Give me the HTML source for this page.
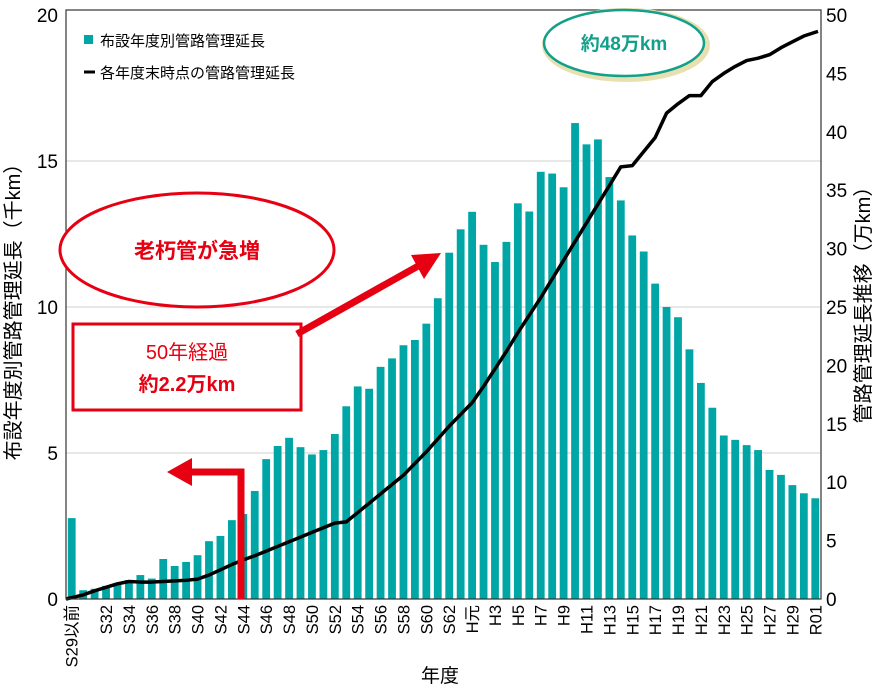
<!DOCTYPE html>
<html><head><meta charset="utf-8"><style>
body{margin:0;background:#fff;}
svg text{font-family:"Liberation Sans","Noto Sans CJK JP",sans-serif;}
</style></head><body>
<svg id="chart" width="886" height="688" viewBox="0 0 886 688" xmlns="http://www.w3.org/2000/svg">
<g id="grid"></g><g id="bars"></g><g id="line"></g><g id="axes"></g>
<g>
<rect x="84" y="35" width="9" height="9" fill="#00a6a6"/>
<text x="100" y="46" font-size="15">布設年度別管路管理延長</text>
<line x1="84" y1="72" x2="95" y2="72" stroke="#000" stroke-width="3"/>
<text x="100" y="78" font-size="15">各年度末時点の管路管理延長</text>
</g>
<g>
<ellipse cx="626" cy="45" rx="81" ry="34" fill="#fff" stroke="#e8e0b0" stroke-width="6"/>
<ellipse cx="624" cy="43" rx="80" ry="33" fill="#fff" stroke="#12a08a" stroke-width="2.5"/>
<text x="624" y="50" font-size="19" font-weight="bold" fill="#12a08a" text-anchor="middle">約48万km</text>
</g>
<g>
<ellipse cx="197" cy="250" rx="137" ry="57" fill="#fff" stroke="#e60012" stroke-width="3"/>
<text x="197" y="258" font-size="21" font-weight="bold" fill="#e60012" text-anchor="middle">老朽管が急増</text>
</g>
<g>
<rect x="73" y="324" width="228" height="86" fill="#fff" stroke="#e60012" stroke-width="3"/>
<text x="187" y="359" font-size="20" fill="#e60012" text-anchor="middle">50年経過</text>
<text x="187" y="391" font-size="20" font-weight="bold" fill="#e60012" text-anchor="middle">約2.2万km</text>
</g>
<g>
<polyline points="241,599 241,472 190,472" fill="none" stroke="#e60012" stroke-width="7"/>
<polygon points="167,472 192,458 192,486" fill="#e60012"/>
</g>
<g>
<line x1="297" y1="334" x2="420" y2="265" stroke="#e60012" stroke-width="7"/>
<polygon points="441,253 411,255 424,279" fill="#e60012"/>
</g>
<text transform="translate(20,307) rotate(-90)" font-size="20" text-anchor="middle">布設年度別管路管理延長（千km）</text>
<text transform="translate(870,300) rotate(-90)" font-size="20" text-anchor="middle">管路管理延長推移（万km）</text>
<text x="440" y="682" font-size="19" text-anchor="middle">年度</text>
</svg>
<script>
const categories=["S29以前","S30","S31","S32","S33","S34","S35","S36","S37","S38","S39","S40","S41","S42","S43","S44","S45","S46","S47","S48","S49","S50","S51","S52","S53","S54","S55","S56","S57","S58","S59","S60","S61","S62","S63","H元","H2","H3","H4","H5","H6","H7","H8","H9","H10","H11","H12","H13","H14","H15","H16","H17","H18","H19","H20","H21","H22","H23","H24","H25","H26","H27","H28","H29","H30","R01"];
const barValues=[2.77,0.3,0.35,0.45,0.55,0.65,0.82,0.7,1.37,1.13,1.27,1.5,1.98,2.16,2.7,2.91,3.7,4.79,5.24,5.52,5.2,4.95,5.1,5.65,6.6,7.28,7.2,7.95,8.24,8.69,8.87,9.43,10.3,11.86,12.66,13.26,12.13,11.54,12.23,13.55,13.27,14.63,14.57,14.1,16.3,15.57,15.74,14.45,13.65,12.45,11.9,10.8,10.0,9.65,8.55,7.4,6.55,5.6,5.45,5.27,5.1,4.42,4.25,3.9,3.62,3.45];
const lineValues=[0,0.35,0.7,1.0,1.3,1.5,1.45,1.45,1.5,1.55,1.6,1.7,2.05,2.5,2.95,3.35,3.7,4.1,4.5,4.9,5.3,5.7,6.1,6.5,6.6,7.4,8.2,9.0,9.8,10.6,11.6,12.6,13.7,14.8,15.8,16.8,18.2,19.7,21.2,22.8,24.3,25.8,27.4,29.0,30.6,32.2,33.8,35.4,37.0,37.1,38.3,39.5,41.6,42.4,43.1,43.1,44.3,45.0,45.6,46.1,46.3,46.6,47.2,47.7,48.2,48.6];
const leftTicks=[0,5,10,15,20];
const rightTicks=[0,5,10,15,20,25,30,35,40,45,50];
const NS="http://www.w3.org/2000/svg";
const X0=66,X1=821,Y0=599,Y1=15,pitch=(X1-X0)/categories.length;
const xc=i=>X0+pitch*(i+0.5);
const yL=v=>Y0-(v/20)*(Y0-Y1);
const yR=v=>Y0-(v/50)*(Y0-Y1);
function mk(tag,attrs,parent){const e=document.createElementNS(NS,tag);for(const k in attrs)e.setAttribute(k,attrs[k]);document.getElementById(parent).appendChild(e);return e;}
leftTicks.forEach(t=>{if(t>0&&t<20){const g=mk('line',{x1:X0,x2:X1,y1:yL(t),y2:yL(t),stroke:'#d0d0d0','stroke-width':1},'grid');

}
const tx=mk('text',{x:X0-8,y:yL(t)+7,'font-size':19,'text-anchor':'end'},'axes');tx.textContent=t;

});
rightTicks.forEach(t=>{const tx=mk('text',{x:X1+5,y:yR(t)+7,'font-size':19},'axes');tx.textContent=t;

});
barValues.forEach((v,i)=>{const b=mk('rect',{x:xc(i)-3.9,y:yL(v),width:7.8,height:Y0-yL(v),fill:'#00a6a6'},'bars');

});
const p=mk('polyline',{points:lineValues.map((v,i)=>(i===0?X0:i===lineValues.length-1?X1-3:xc(i))+','+yR(v)).join(' '),fill:'none',stroke:'#000','stroke-width':3.5,'stroke-linejoin':'round'},'line');


const fr=mk('rect',{x:X0,y:Y1-5,width:X1-X0,height:Y0-Y1+5,fill:'none',stroke:'#333','stroke-width':1.2},'axes');


categories.forEach((c,i)=>{if(i===0||(i>=3&&i%2===1)){const tx=mk('text',{transform:`translate(${xc(i)+6},605) rotate(-90)`,'font-size':16.5,'text-anchor':'end'},'axes');tx.textContent=c;

}});
</script>
</body></html>
